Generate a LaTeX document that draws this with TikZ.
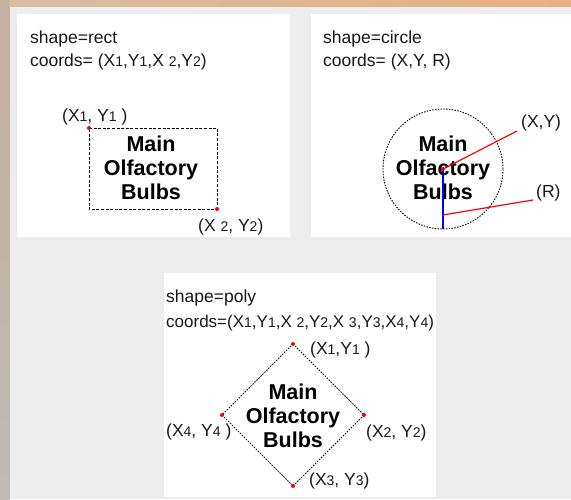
\documentclass[tikz,border=0pt]{standalone}
\usepackage{fontspec}
\setmainfont{Liberation Sans}
\definecolor{bggray}{RGB}{237,237,237}
\definecolor{topl}{RGB}{216,188,164}
\definecolor{topr}{RGB}{233,176,128}
\definecolor{leftt}{RGB}{196,176,160}
\definecolor{leftb}{RGB}{190,186,182}
\definecolor{txt}{RGB}{25,25,25}
\newcommand\dg[1]{{\fontsize{14}{14}\selectfont #1}}
\begin{document}
\begin{tikzpicture}[x=1pt,y=-1pt,
  panel/.style={fill=white, draw=none, inner sep=0pt, anchor=north west},
  lbl/.style={inner sep=0pt, anchor=west, font=\fontsize{17.5}{20}\selectfont, text=txt},
  hdr/.style={inner sep=0pt, anchor=base west, font=\fontsize{17.5}{20}\selectfont, text=txt},
  bulb/.style={inner sep=0pt, align=center, font=\fontsize{21.5}{24}\selectfont\bfseries, text=black},
  reddot/.style={circle, fill=red, draw=none, inner sep=0pt, minimum size=4pt},
  rectline/.style={draw=black, line width=1pt, dash pattern=on 3pt off 1.6pt},
  dotline/.style={draw=black, line width=0.9pt, dash pattern=on 1.5pt off 1.3pt},
  redline/.style={draw=red, line width=1.2pt},
  blueline/.style={draw=blue, line width=1.6pt}]
\useasboundingbox (0,0) rectangle (571,499);
% background
\shade[top color=leftt, bottom color=leftb] (0,0) rectangle (9.5,499);
\shade[left color=topl, right color=topr] (9.5,0) rectangle (571,7);
\fill[bggray] (9.5,7) rectangle (571,499);
% panels
\node[panel, minimum width=273pt, minimum height=223pt] (rectpanel) at (17,14) {};
\node[panel, minimum width=260pt, minimum height=223pt] (circpanel) at (311,14) {};
\node[panel, minimum width=272pt, minimum height=224pt] (polypanel) at (164,273) {};

% ---- rect panel
\node[hdr] (rh1) at (30,43) {shape=rect};
\node[hdr] (rh2) at (30,66) {coords= (X\dg{1},Y\dg{1},X \dg{2},Y\dg{2})};
\coordinate (r1) at (89,128);
\coordinate (r2) at (217,128);
\coordinate (r3) at (217,209);
\coordinate (r4) at (89,209);
\draw[rectline] (r1) -- (r2) -- (r3) -- (r4) -- cycle;
\node[bulb] (rtext) at (151,168) {Main\\Olfactory\\Bulbs};
\node[reddot] (rd1) at (r1) {};
\node[reddot] (rd2) at (r3) {};
\node[lbl] (rl1) at (62,117) {(X\dg{1}, Y\dg{1} )};
\node[lbl] (rl2) at (198,227) {(X \dg{2}, Y\dg{2})};

% ---- circle panel
\node[hdr] (ch1) at (323,43) {shape=circle};
\node[hdr] (ch2) at (323,66) {coords= (X,Y, R)};
\node[bulb] (ctext) at (443,168) {Main\\Olfactory\\Bulbs};
\node[circle, dotline, inner sep=0pt, minimum size=120pt] (circ) at (443,169) {};
\coordinate (xyend) at (517,131);
\coordinate (rstart) at (443,215);
\coordinate (rend) at (533,200);
\draw[blueline] (circ.center) -- (circ.south);
\draw[redline] (circ.center) -- (xyend);
\draw[redline] (rstart) -- (rend);
\node[reddot] (cd) at (circ.center) {};
\node[lbl] (cl1) at (521,123) {(X,Y)};
\node[lbl] (cl2) at (536,193) {(R)};

% ---- poly panel
\node[hdr] (ph1) at (166,302) {shape=poly};
\node[hdr, font=\fontsize{17}{20}\selectfont] (ph2) at (166,327) {coords=(X\dg{1},Y\dg{1},X \dg{2},Y\dg{2},X \dg{3},Y\dg{3},X\dg{4},Y\dg{4})};
\coordinate (p1) at (293,344);
\coordinate (p2) at (364,415);
\coordinate (p3) at (293,486);
\coordinate (p4) at (222,415);
\draw[dotline] (p1) -- (p2) -- (p3) -- (p4) -- cycle;
\node[bulb] (ptext) at (293,416) {Main\\Olfactory\\Bulbs};
\node[reddot] (pd1) at (p1) {};
\node[reddot] (pd2) at (p2) {};
\node[reddot] (pd3) at (p3) {};
\node[reddot] (pd4) at (p4) {};
\node[lbl] (pl1) at (310,350) {(X\dg{1},Y\dg{1} )};
\node[lbl] (pl2) at (366,433) {(X\dg{2}, Y\dg{2})};
\node[lbl] (pl3) at (309,481) {(X\dg{3}, Y\dg{3})};
\node[lbl] (pl4) at (166,432) {(X\dg{4}, Y\dg{4} )};
\end{tikzpicture}
\end{document}
